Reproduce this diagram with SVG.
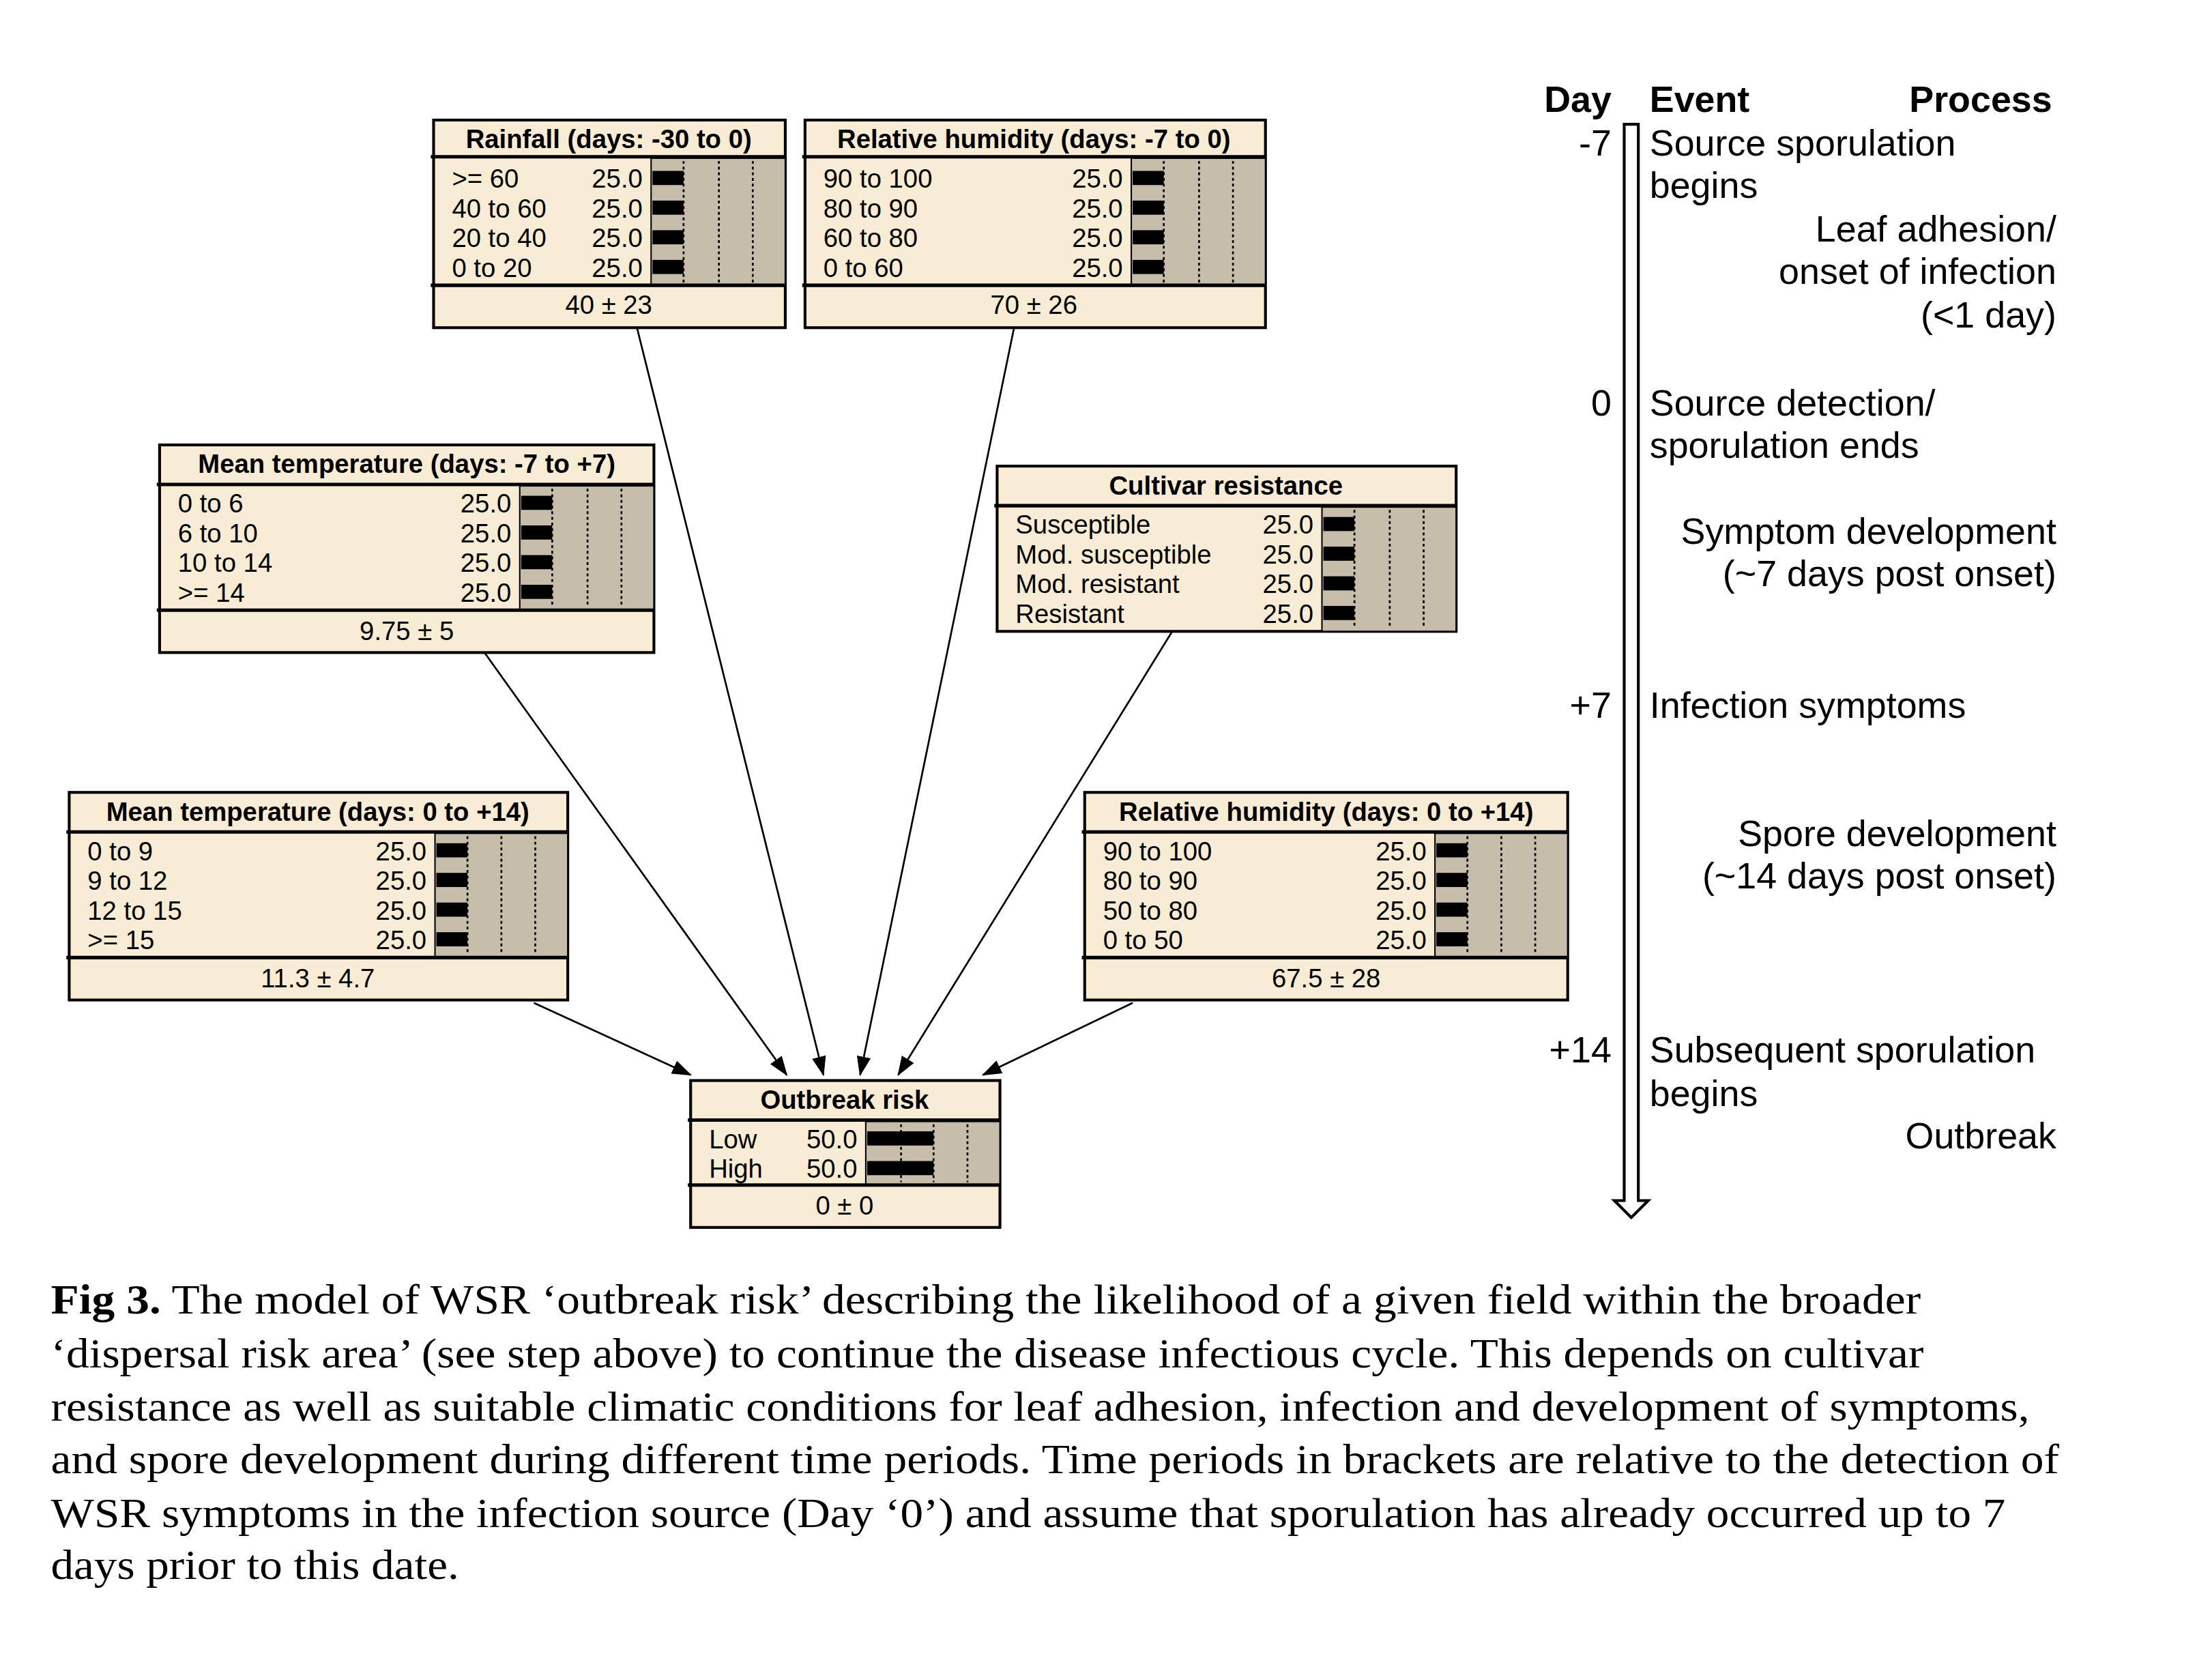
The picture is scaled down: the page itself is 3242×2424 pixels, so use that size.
<svg xmlns="http://www.w3.org/2000/svg" width="3242" height="2424" viewBox="0 0 3242 2424">
<defs>
<style>
.box{fill:#F8EDD4;stroke:#000;stroke-width:2}
.ln{stroke:#000;stroke-width:2.5}
.bar{fill:#C6BEAA;stroke:#000;stroke-width:1}
.dot{stroke:#000;stroke-width:1.3;stroke-dasharray:2,2}
.t{font-family:"Liberation Sans",Arial,sans-serif;font-size:18.5px;font-weight:bold;text-anchor:middle}
.s{font-family:"Liberation Sans",Arial,sans-serif;font-size:18.5px}
.v{font-family:"Liberation Sans",Arial,sans-serif;font-size:18.5px;text-anchor:end}
.f{font-family:"Liberation Sans",Arial,sans-serif;font-size:18.5px;text-anchor:middle}
.tl{font-family:"Liberation Sans",Arial,sans-serif;font-size:26px}
.tr{font-family:"Liberation Sans",Arial,sans-serif;font-size:26px;text-anchor:end}
.cap{font-family:"Liberation Serif","Times New Roman",serif;font-size:30px}
.con{stroke:#000;stroke-width:1.3;fill:none;marker-end:url(#ah)}
</style>
<marker id="ah" markerWidth="14" markerHeight="10" refX="13" refY="5" orient="auto" markerUnits="userSpaceOnUse"><path d="M0,0 L14,5 L0,10 Z" fill="#000"/></marker>
</defs>
<rect width="3242" height="2424" fill="#fff"/>
<g transform="scale(2.07)">
<g id="connectors">
<line class="con" x1="451" y1="232" x2="583" y2="761"/>
<line class="con" x1="718" y1="232" x2="609" y2="761"/>
<line class="con" x1="343" y1="462" x2="557" y2="761"/>
<line class="con" x1="830" y1="447" x2="636" y2="761"/>
<line class="con" x1="378" y1="710" x2="489" y2="761"/>
<line class="con" x1="802" y1="710" x2="696" y2="761"/>
</g>

<g id="rainfall">
<rect class="box" x="307" y="85" width="249" height="147"/>
<rect class="bar" x="461" y="112" width="95" height="90"/>
<line class="ln" x1="305" y1="111" x2="556" y2="111"/><line class="ln" x1="305" y1="202" x2="556" y2="202"/>
<g fill="#000"><rect x="462" y="121" width="22" height="10"/><rect x="462" y="142" width="22" height="10"/><rect x="462" y="163" width="22" height="10"/><rect x="462" y="184" width="22" height="10"/></g>
<line class="dot" x1="484" y1="114" x2="484" y2="200"/><line class="dot" x1="509" y1="114" x2="509" y2="200"/><line class="dot" x1="533" y1="114" x2="533" y2="200"/>
<text class="t" x="431" y="105">Rainfall (days: -30 to 0)</text>
<text class="s" x="320" y="133">&gt;= 60</text><text class="v" x="455" y="133">25.0</text>
<text class="s" x="320" y="154">40 to 60</text><text class="v" x="455" y="154">25.0</text>
<text class="s" x="320" y="175">20 to 40</text><text class="v" x="455" y="175">25.0</text>
<text class="s" x="320" y="196">0 to 20</text><text class="v" x="455" y="196">25.0</text>
<text class="f" x="431" y="222">40 ± 23</text>
</g>

<g id="rh1">
<rect class="box" x="570" y="85" width="326" height="147"/>
<rect class="bar" x="801" y="112" width="95" height="90"/>
<line class="ln" x1="568" y1="111" x2="896" y2="111"/><line class="ln" x1="568" y1="202" x2="896" y2="202"/>
<g fill="#000"><rect x="802" y="121" width="22" height="10"/><rect x="802" y="142" width="22" height="10"/><rect x="802" y="163" width="22" height="10"/><rect x="802" y="184" width="22" height="10"/></g>
<line class="dot" x1="824" y1="114" x2="824" y2="200"/><line class="dot" x1="849" y1="114" x2="849" y2="200"/><line class="dot" x1="873" y1="114" x2="873" y2="200"/>
<text class="t" x="732" y="105">Relative humidity (days: -7 to 0)</text>
<text class="s" x="583" y="133">90 to 100</text><text class="v" x="795" y="133">25.0</text>
<text class="s" x="583" y="154">80 to 90</text><text class="v" x="795" y="154">25.0</text>
<text class="s" x="583" y="175">60 to 80</text><text class="v" x="795" y="175">25.0</text>
<text class="s" x="583" y="196">0 to 60</text><text class="v" x="795" y="196">25.0</text>
<text class="f" x="732" y="222">70 ± 26</text>
</g>

<g id="mt1">
<rect class="box" x="113" y="315" width="350" height="147"/>
<rect class="bar" x="368" y="344" width="95" height="88"/>
<line class="ln" x1="111" y1="343" x2="463" y2="343"/><line class="ln" x1="111" y1="432" x2="463" y2="432"/>
<g fill="#000"><rect x="369" y="351" width="22" height="10"/><rect x="369" y="372" width="22" height="10"/><rect x="369" y="393" width="22" height="10"/><rect x="369" y="414" width="22" height="10"/></g>
<line class="dot" x1="391" y1="346" x2="391" y2="430"/><line class="dot" x1="416" y1="346" x2="416" y2="430"/><line class="dot" x1="440" y1="346" x2="440" y2="430"/>
<text class="t" x="288" y="335">Mean temperature (days: -7 to +7)</text>
<text class="s" x="126" y="363">0 to 6</text><text class="v" x="362" y="363">25.0</text>
<text class="s" x="126" y="384">6 to 10</text><text class="v" x="362" y="384">25.0</text>
<text class="s" x="126" y="405">10 to 14</text><text class="v" x="362" y="405">25.0</text>
<text class="s" x="126" y="426">&gt;= 14</text><text class="v" x="362" y="426">25.0</text>
<text class="f" x="288" y="453">9.75 ± 5</text>
</g>

<g id="cultivar">
<rect class="box" x="706" y="330" width="325" height="117"/>
<rect class="bar" x="936" y="359" width="95" height="88"/>
<line class="ln" x1="704" y1="358" x2="1031" y2="358"/>
<g fill="#000"><rect x="937" y="366" width="22" height="10"/><rect x="937" y="387" width="22" height="10"/><rect x="937" y="408" width="22" height="10"/><rect x="937" y="429" width="22" height="10"/></g>
<line class="dot" x1="959" y1="361" x2="959" y2="445"/><line class="dot" x1="984" y1="361" x2="984" y2="445"/><line class="dot" x1="1008" y1="361" x2="1008" y2="445"/>
<text class="t" x="868" y="350">Cultivar resistance</text>
<text class="s" x="719" y="378">Susceptible</text><text class="v" x="930" y="378">25.0</text>
<text class="s" x="719" y="399">Mod. susceptible</text><text class="v" x="930" y="399">25.0</text>
<text class="s" x="719" y="420">Mod. resistant</text><text class="v" x="930" y="420">25.0</text>
<text class="s" x="719" y="441">Resistant</text><text class="v" x="930" y="441">25.0</text>
</g>

<g id="mt2">
<rect class="box" x="49" y="561" width="353" height="147"/>
<rect class="bar" x="308" y="590" width="94" height="88"/>
<line class="ln" x1="47" y1="589" x2="402" y2="589"/><line class="ln" x1="47" y1="678" x2="402" y2="678"/>
<g fill="#000"><rect x="309" y="597" width="22" height="10"/><rect x="309" y="618" width="22" height="10"/><rect x="309" y="639" width="22" height="10"/><rect x="309" y="660" width="22" height="10"/></g>
<line class="dot" x1="331" y1="592" x2="331" y2="676"/><line class="dot" x1="355" y1="592" x2="355" y2="676"/><line class="dot" x1="379" y1="592" x2="379" y2="676"/>
<text class="t" x="225" y="581">Mean temperature (days: 0 to +14)</text>
<text class="s" x="62" y="609">0 to 9</text><text class="v" x="302" y="609">25.0</text>
<text class="s" x="62" y="630">9 to 12</text><text class="v" x="302" y="630">25.0</text>
<text class="s" x="62" y="651">12 to 15</text><text class="v" x="302" y="651">25.0</text>
<text class="s" x="62" y="672">&gt;= 15</text><text class="v" x="302" y="672">25.0</text>
<text class="f" x="225" y="699">11.3 ± 4.7</text>
</g>

<g id="rh2">
<rect class="box" x="768" y="561" width="342" height="147"/>
<rect class="bar" x="1016" y="590" width="94" height="88"/>
<line class="ln" x1="766" y1="589" x2="1110" y2="589"/><line class="ln" x1="766" y1="678" x2="1110" y2="678"/>
<g fill="#000"><rect x="1017" y="597" width="22" height="10"/><rect x="1017" y="618" width="22" height="10"/><rect x="1017" y="639" width="22" height="10"/><rect x="1017" y="660" width="22" height="10"/></g>
<line class="dot" x1="1039" y1="592" x2="1039" y2="676"/><line class="dot" x1="1063" y1="592" x2="1063" y2="676"/><line class="dot" x1="1087" y1="592" x2="1087" y2="676"/>
<text class="t" x="939" y="581">Relative humidity (days: 0 to +14)</text>
<text class="s" x="781" y="609">90 to 100</text><text class="v" x="1010" y="609">25.0</text>
<text class="s" x="781" y="630">80 to 90</text><text class="v" x="1010" y="630">25.0</text>
<text class="s" x="781" y="651">50 to 80</text><text class="v" x="1010" y="651">25.0</text>
<text class="s" x="781" y="672">0 to 50</text><text class="v" x="1010" y="672">25.0</text>
<text class="f" x="939" y="699">67.5 ± 28</text>
</g>

<g id="outbreak">
<rect class="box" x="489" y="765" width="219" height="104"/>
<rect class="bar" x="613" y="794" width="95" height="45"/>
<line class="ln" x1="487" y1="793" x2="708" y2="793"/><line class="ln" x1="487" y1="839" x2="708" y2="839"/>
<g fill="#000"><rect x="614" y="801" width="47" height="10"/><rect x="614" y="822" width="47" height="10"/></g>
<line class="dot" x1="638" y1="796" x2="638" y2="837"/><line class="dot" x1="661" y1="796" x2="661" y2="837"/><line class="dot" x1="685" y1="796" x2="685" y2="837"/>
<text class="t" x="598" y="785">Outbreak risk</text>
<text class="s" x="502" y="813">Low</text><text class="v" x="607" y="813">50.0</text>
<text class="s" x="502" y="834">High</text><text class="v" x="607" y="834">50.0</text>
<text class="f" x="598" y="860">0 ± 0</text>
</g>

<g id="timeline">
<path d="M1150,88 L1160,88 L1160,850 L1167,850 L1155,862 L1143,850 L1150,850 Z" fill="#fff" stroke="#000" stroke-width="2"/>
<text class="tr" x="1141" y="79" font-weight="bold">Day</text>
<text class="tl" x="1168" y="79" font-weight="bold">Event</text>
<text class="tr" x="1453" y="79" font-weight="bold">Process</text>
<text class="tr" x="1141" y="110">-7</text>
<text class="tl" x="1168" y="110">Source sporulation</text>
<text class="tl" x="1168" y="140">begins</text>
<text class="tr" x="1456" y="171">Leaf adhesion/</text>
<text class="tr" x="1456" y="201">onset of infection</text>
<text class="tr" x="1456" y="232">(&lt;1 day)</text>
<text class="tr" x="1141" y="294">0</text>
<text class="tl" x="1168" y="294">Source detection/</text>
<text class="tl" x="1168" y="324">sporulation ends</text>
<text class="tr" x="1456" y="385">Symptom development</text>
<text class="tr" x="1456" y="415">(~7 days post onset)</text>
<text class="tr" x="1141" y="508">+7</text>
<text class="tl" x="1168" y="508">Infection symptoms</text>
<text class="tr" x="1456" y="599">Spore development</text>
<text class="tr" x="1456" y="629">(~14 days post onset)</text>
<text class="tr" x="1141" y="752">+14</text>
<text class="tl" x="1168" y="752">Subsequent sporulation</text>
<text class="tl" x="1168" y="783">begins</text>
<text class="tr" x="1456" y="813">Outbreak</text>
</g>

<g id="caption" class="cap">
<text x="36" y="930" textLength="1324" lengthAdjust="spacingAndGlyphs"><tspan font-weight="bold">Fig 3.</tspan> The model of WSR ‘outbreak risk’ describing the likelihood of a given field within the broader</text>
<text x="36" y="968" textLength="1326" lengthAdjust="spacingAndGlyphs">‘dispersal risk area’ (see step above) to continue the disease infectious cycle. This depends on cultivar</text>
<text x="36" y="1006" textLength="1401" lengthAdjust="spacingAndGlyphs">resistance as well as suitable climatic conditions for leaf adhesion, infection and development of symptoms,</text>
<text x="36" y="1043" textLength="1422" lengthAdjust="spacingAndGlyphs">and spore development during different time periods. Time periods in brackets are relative to the detection of</text>
<text x="36" y="1081" textLength="1384" lengthAdjust="spacingAndGlyphs">WSR symptoms in the infection source (Day ‘0’) and assume that sporulation has already occurred up to 7</text>
<text x="36" y="1118" textLength="289" lengthAdjust="spacingAndGlyphs">days prior to this date.</text>
</g>
</g>
</svg>
